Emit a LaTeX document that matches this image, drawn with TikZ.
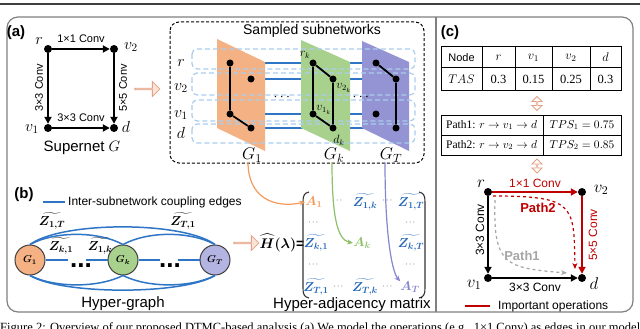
\RequirePackage{fix-cm}
\documentclass[tikz,border=0pt]{standalone}
\usepackage{amsmath}
\usepackage{fontspec}
\setmainfont{Liberation Sans}
\newfontfamily\serifrm{Liberation Serif}
\usepackage{bm}
\usetikzlibrary{arrows.meta,shapes.arrows}
\definecolor{orF}{HTML}{F4B183}
\definecolor{grF}{HTML}{A9D18E}
\definecolor{puF}{HTML}{9494D4}
\definecolor{puC}{HTML}{B4B4E2}
\definecolor{blE}{HTML}{2E75C6}
\definecolor{blT}{HTML}{2468B8}
\definecolor{ltB}{HTML}{AACDEE}
\definecolor{pkF}{HTML}{FBE3D6}
\definecolor{pkD}{HTML}{E3A285}
\definecolor{redI}{HTML}{C00000}
\definecolor{grP}{HTML}{A6A6A6}
\definecolor{frm}{HTML}{808080}
\definecolor{orT}{HTML}{F29A5C}
\definecolor{grT}{HTML}{8CC068}
\definecolor{puT}{HTML}{8686CC}
\newcommand\fsz[1]{\fontsize{#1}{#1}\selectfont}
\begin{document}
\begin{tikzpicture}[x=1pt,y=-1pt,
 blackdot/.style={circle,fill=black,inner sep=0pt,minimum size=8pt},
 subdot/.style={circle,fill=black,inner sep=0pt,minimum size=7pt},
 txt/.style={inner sep=0pt},
 convlab/.style={inner sep=0pt,font=\fsz{11}},
 opedge/.style={line width=1.8pt,-{Triangle[length=7pt,width=7pt]}},
 subedge/.style={line width=1.8pt},
 coup/.style={blE,line width=1.8pt},
 rowbox/.style={ltB,line width=1.2pt,dash pattern=on 5pt off 3pt,rounded corners=5pt},
 pinkarrow/.style={single arrow,draw=pkD,fill=pkF,line width=0.8pt,minimum height=25pt,minimum width=15pt,single arrow head extend=3.5pt,inner sep=0pt},
 pinkdouble/.style={double arrow,draw=pkD,fill=white,line width=0.8pt,minimum height=14pt,minimum width=10pt,double arrow head extend=2pt,inner sep=0pt,rotate=90},
 hnode/.style={circle,draw=black!75,line width=1pt,minimum size=30pt,inner sep=0pt,font=\fsz{10}},
 harc/.style={blE,line width=1.5pt},
 mentry/.style={inner sep=0pt,font=\fsz{13}},
 mdots/.style={inner sep=0pt,font=\fsz{8}},
 cell/.style={inner sep=0pt,font=\fsz{11}},
 numcell/.style={inner sep=0pt,font=\serifrm\fsz{12.5}},
 curvearr/.style={line width=1.2pt,-{Stealth[length=6pt,width=5pt]}},
]
\useasboundingbox (0,0) rectangle (640,329);
% top rule and frame
\draw[line width=2pt,black!75] (0,4) -- (640,4);
\draw[frm,line width=1.2pt,rounded corners=11pt] (7,17) rectangle (633,312);
\draw[frm,line width=1.2pt] (436,17) -- (436,312);

% ---------------- (a) supernet
\node[txt,font=\fsz{15}\bfseries] (tagA) at (16,33) {(a)};
\node[blackdot] (ar) at (48,49) {};
\node[blackdot] (av2) at (114,49) {};
\node[blackdot] (av1) at (48,128) {};
\node[blackdot] (ad) at (114,128) {};
\node[txt,font=\fsz{16}] (arl) at (39,41) {$r$};
\node[txt,font=\fsz{16}] (av2l) at (131,47) {$v_2$};
\node[txt,font=\fsz{16}] (av1l) at (32,129) {$v_1$};
\node[txt,font=\fsz{16}] (adl) at (126,127) {$d$};
\draw[opedge] (ar) -- (av2);
\draw[opedge] (ar) -- (av1);
\draw[opedge] (av2) -- (ad);
\draw[opedge] (av1) -- (ad);
\node[convlab] (ac1) at (81,39) {1×1 Conv};
\node[convlab,rotate=90] (ac2) at (39,88) {3×3 Conv};
\node[convlab,rotate=90] (ac3) at (123,88) {5×5 Conv};
\node[convlab] (ac4) at (81,118) {3×3 Conv};
\node[txt,font=\fsz{15}] (supl) at (82,148) {Supernet $G$};
\node[pinkarrow] (parA) at (147,89) {};

% ---------------- sampled subnetworks
\draw[dash pattern=on 3pt off 2pt,line width=1pt,rounded corners=9pt] (170,22) rectangle (424,163);
\node[txt,font=\fsz{14}] (sstitle) at (312,31) {Sampled subnetworks};
\coordinate (p1r) at (230,63);
\coordinate (p1v2) at (251,79);
\coordinate (p1v1) at (230,114);
\coordinate (p1d) at (251,128);
\coordinate (pkr) at (313,63);
\coordinate (pkv2) at (333,79);
\coordinate (pkv1) at (313,114);
\coordinate (pkd) at (333,128);
\coordinate (pTr) at (376,63);
\coordinate (pTv2) at (396,79);
\coordinate (pTv1) at (376,114);
\coordinate (pTd) at (396,128);
\draw[coup] (p1r) -- (pkr) -- (pTr);
\draw[coup] (p1v2) -- (pkv2) -- (pTv2);
\draw[coup] (p1v1) -- (pkv1) -- (pTv1);
\draw[coup] (p1d) -- (pkd) -- (pTd);
\fill[orF] (217,39) -- (265,62) -- (265,151) -- (217,128) -- cycle;
\fill[grF] (301,40) -- (350,62) -- (350,151) -- (301,128) -- cycle;
\fill[puF] (362,41) -- (409,62) -- (409,151) -- (362,128) -- cycle;
\draw[rowbox] (192,49) rectangle (415,69);
\draw[rowbox] (192,73) rectangle (415,95);
\draw[rowbox] (192,100) rectangle (415,121);
\draw[rowbox] (192,124) rectangle (415,143);
\node[txt,font=\fsz{16}] (rowr) at (181,63) {$r$};
\node[txt,font=\fsz{16}] (rowv2) at (181,88) {$v_2$};
\node[txt,font=\fsz{16}] (rowv1) at (181,115) {$v_1$};
\node[txt,font=\fsz{16}] (rowd) at (181,133) {$d$};
\node[subdot] (g1r) at (p1r) {};
\node[subdot] (g1v2) at (p1v2) {};
\node[subdot] (g1v1) at (p1v1) {};
\node[subdot] (g1d) at (p1d) {};
\node[subdot] (gkr) at (pkr) {};
\node[subdot] (gkv2) at (pkv2) {};
\node[subdot] (gkv1) at (pkv1) {};
\node[subdot] (gkd) at (pkd) {};
\node[subdot] (gTr) at (pTr) {};
\node[subdot] (gTv2) at (pTv2) {};
\node[subdot] (gTv1) at (pTv1) {};
\node[subdot] (gTd) at (pTd) {};
\draw[subedge] (g1r) -- (g1v1) -- (g1d);
\draw[subedge] (gkr) -- (gkv2) -- (gkd);
\draw[subedge] (gkr) -- (gkv1) -- (gkd);
\draw[subedge] (gTr) -- (gTv2) -- (gTd);
\node[txt,font=\fsz{12}] (lrk) at (305,55) {$r_k$};
\node[txt,font=\fsz{12}] (lv2k) at (344,88) {$v_{2_k}$};
\node[txt,font=\fsz{12}] (lv1k) at (324,110) {$v_{1_k}$};
\node[txt,font=\fsz{12}] (ldk) at (339,140) {$d_k$};
\node[txt,font=\fsz{14}] (dots1) at (283,97) {$\cdots$};
\node[txt,font=\fsz{14}] (dots2) at (362,97) {$\cdots$};
\node[txt,font=\fsz{17}] (lG1) at (252,155) {$G_1$};
\node[txt,font=\fsz{17}] (lGk) at (334,155) {$G_k$};
\node[txt,font=\fsz{17}] (lGT) at (391,155) {$G_T$};

% ---------------- (b) hyper-graph
\node[txt,font=\fsz{15}\bfseries] (tagB) at (24,195) {(b)};
\coordinate (legB1) at (43,202);
\coordinate (legB2) at (65,202);
\draw[coup] (legB1) -- (legB2);
\node[txt,anchor=west,font=\fsz{12}] (legBt) at (68,202) {Inter-subnetwork coupling edges};
\node[hnode,fill=orF] (h1) at (30,260) {$\bm{G_1}$};
\node[hnode,fill=grF] (hk) at (123,260) {$\bm{G_k}$};
\node[hnode,fill=puC] (hT) at (215,260) {$\bm{G_T}$};
\draw[harc] (h1.north) .. controls (62,221) and (183,221) .. (hT.north);
\draw[harc] (h1.north) .. controls (55,231) and (98,231) .. (hk.north);
\draw[harc] (hk.north) .. controls (148,231) and (190,231) .. (hT.north);
\draw[harc] (h1.south) .. controls (62,295) and (183,295) .. (hT.south);
\draw[harc] (h1.south) .. controls (55,288) and (98,288) .. (hk.south);
\draw[harc] (hk.south) .. controls (148,288) and (190,288) .. (hT.south);
\draw[harc] (h1) -- node[fill=white,inner sep=0pt,minimum width=18pt,minimum height=5pt] (gapa) {} (hk);
\draw[harc] (hk) -- node[fill=white,inner sep=0pt,minimum width=18pt,minimum height=5pt] (gapb) {} (hT);
\node[txt,anchor=base,font=\fsz{26}\bfseries] (hdots1) at (81,267) {...};
\node[txt,anchor=base,font=\fsz{26}\bfseries] (hdots2) at (170,267) {...};
\node[txt,font=\fsz{13}] (z1T) at (52,221) {$\boldsymbol{\widetilde{Z_{1,T}}}$};
\node[txt,font=\fsz{13}] (zT1) at (183,221) {$\boldsymbol{\widetilde{Z_{T,1}}}$};
\node[txt,font=\fsz{13}] (zk1) at (61,246) {$\boldsymbol{\widetilde{Z_{k,1}}}$};
\node[txt,font=\fsz{13}] (z1k) at (100,246) {$\boldsymbol{\widetilde{Z_{1,k}}}$};
\node[txt,font=\fsz{15}] (hgl) at (123,304) {Hyper-graph};
\node[pinkarrow] (parB) at (246,243) {};

% ---------------- hyper-adjacency matrix
\node[txt,font=\fsz{14}] (Hlab) at (282,243) {$\bm{\widehat{H}(\lambda)}$\textbf{=}};
\draw[line width=1.1pt,black!80] (309,192) .. controls (304,193) and (303,196) .. (303,202) -- (303,288) .. controls (303,294) and (304,297) .. (309,298);
\draw[line width=1.1pt,black!80] (419,192) .. controls (424,193) and (425,196) .. (425,202) -- (425,288) .. controls (425,294) and (424,297) .. (419,298);
\node[mentry,text=orT] (mA1) at (314,202) {$\bm{A_1}$};
\node[mdots] (md11) at (338,201) {$\cdots$};
\node[mentry,text=blT] (mZ1k) at (365,202) {$\boldsymbol{\widetilde{Z_{1,k}}}$};
\node[mdots] (md12) at (388,201) {$\cdots$};
\node[mentry,text=blT] (mZ1T) at (411,202) {$\boldsymbol{\widetilde{Z_{1,T}}}$};
\node[mdots] (md21) at (314,223) {$\cdots$};
\node[mdots] (md23) at (411,223) {$\cdots$};
\node[mentry,text=blT] (mZk1) at (316,243) {$\boldsymbol{\widetilde{Z_{k,1}}}$};
\node[mentry,text=grT] (mAk) at (362,243) {$\bm{A_k}$};
\node[mentry,text=blT] (mZkT) at (411,243) {$\boldsymbol{\widetilde{Z_{k,T}}}$};
\node[mdots] (md41) at (314,265) {$\cdots$};
\node[mdots] (md43) at (411,265) {$\cdots$};
\node[mentry,text=blT] (mZT1) at (316,287) {$\boldsymbol{\widetilde{Z_{T,1}}}$};
\node[mdots] (md51) at (339,287) {$\cdots$};
\node[mentry,text=blT] (mZTk) at (365,287) {$\boldsymbol{\widetilde{Z_{T,k}}}$};
\node[mdots] (md52) at (388,287) {$\cdots$};
\node[mentry,text=puT] (mAT) at (410,287) {$\bm{A_T}$};
\node[txt,font=\fsz{15}] (hml) at (352,305) {Hyper-adjacency matrix};
\draw[curvearr,orT] ([xshift=-4pt]lG1.south) .. controls (248,196) and (272,209) .. (mA1.west);
\draw[curvearr,grT] ([xshift=-2pt]lGk.south) .. controls (332,215) and (337,240) .. (mAk.west);
\draw[curvearr,puT] ([xshift=-6pt]lGT.south) .. controls (385,235) and (392,272) .. (mAT.north west);

% ---------------- (c)
\node[txt,font=\fsz{15}\bfseries] (tagC) at (450,33) {(c)};
\draw[line width=1pt] (441,47) rectangle (621,90);
\draw[line width=1pt] (441,68) -- (621,68);
\draw[line width=1pt] (482,47) -- (482,90);
\draw[line width=1pt] (515,47) -- (515,90);
\draw[line width=1pt] (552,47) -- (552,90);
\draw[line width=1pt] (590,47) -- (590,90);
\node[cell] (t11) at (461.5,57.5) {Node};
\node[numcell] (t12) at (498.5,57.5) {$r$};
\node[numcell] (t13) at (533.5,57.5) {$v_1$};
\node[numcell] (t14) at (571,57.5) {$v_2$};
\node[numcell] (t15) at (605.5,57.5) {$d$};
\node[numcell] (t21) at (461.5,79) {$TAS$};
\node[numcell] (t22) at (498.5,79) {0.3};
\node[numcell] (t23) at (533.5,79) {0.15};
\node[numcell] (t24) at (571,79) {0.25};
\node[numcell] (t25) at (605.5,79) {0.3};
\node[pinkdouble] (da1) at (537,103.5) {};
\draw[line width=1pt] (441,115) rectangle (621,155);
\draw[line width=1pt] (441,135) -- (621,135);
\draw[line width=1pt] (543,115) -- (543,155);
\node[numcell,anchor=west,font=\serifrm\fsz{11.5}] (u11) at (446,125) {Path1: $r\rightarrow v_1\rightarrow d$};
\node[numcell,font=\serifrm\fsz{11.5}] (u12) at (582,125) {$TPS_1 = 0.75$};
\node[numcell,anchor=west,font=\serifrm\fsz{11.5}] (u21) at (446,145) {Path2: $r\rightarrow v_2\rightarrow d$};
\node[numcell,font=\serifrm\fsz{11.5}] (u22) at (582,145) {$TPS_2 = 0.85$};
\node[pinkdouble] (da2) at (537,166) {};

\node[blackdot] (cr) at (488,192) {};
\node[blackdot] (cv2) at (582,192) {};
\node[blackdot] (cv1) at (488,278) {};
\node[blackdot] (cd) at (582,278) {};
\node[txt,font=\fsz{17}] (crl) at (481,184) {$r$};
\node[txt,font=\fsz{17}] (cv2l) at (601,190) {$v_2$};
\node[txt,font=\fsz{17}] (cv1l) at (474,285) {$v_1$};
\node[txt,font=\fsz{17}] (cdl) at (594,284) {$d$};
\draw[opedge,redI] (cr) -- (cv2);
\draw[opedge,redI] (cv2) -- (cd);
\draw[opedge] (cr) -- (cv1);
\draw[opedge] (cv1) -- (cd);
\node[convlab,text=redI,font=\fsz{12}] (cc1) at (535,183) {1×1 Conv};
\node[convlab,text=redI,font=\fsz{12},rotate=90] (cc2) at (593,235) {5×5 Conv};
\node[convlab,font=\fsz{12},rotate=90] (cc3) at (480,230) {3×3 Conv};
\node[convlab,font=\fsz{12}] (cc4) at (535,287) {3×3 Conv};
\draw[redI,line width=1.2pt,dashed,-{Stealth[length=6pt,width=5pt]}] ([shift={(5,4)}]cr.center) .. controls (575,196) and (574,205) .. ([shift={(-7,-9)}]cd.center);
\draw[grP,line width=1.2pt,dashed,-{Stealth[length=6pt,width=5pt]}] ([shift={(7,8)}]cr.center) .. controls (493,265) and (505,268) .. ([shift={(-15,-5)}]cd.center);
\node[txt,font=\fsz{13}\bfseries,text=redI] (p2l) at (538,208) {Path2};
\node[txt,font=\fsz{13}\bfseries,text=grP] (p1l) at (522,256) {Path1};
\coordinate (legC1) at (465,306);
\coordinate (legC2) at (490,306);
\draw[redI,line width=2.2pt] (legC1) -- (legC2);
\node[txt,anchor=west,font=\fsz{12}] (legCt) at (498,306) {Important operations};

% caption (cut off by the page edge)
\begin{scope}
\clip (0,0) rectangle (640,329);
\node[anchor=base west,inner sep=0pt,font=\serifrm\fsz{12.5}] (cap) at (0,331) {\makebox[640pt][s]{Figure 2: Overview of our proposed DTMC-based analysis (a) We model the operations (e.g., 1×1 Conv) as edges in our model}};
\end{scope}
\end{tikzpicture}
\end{document}
